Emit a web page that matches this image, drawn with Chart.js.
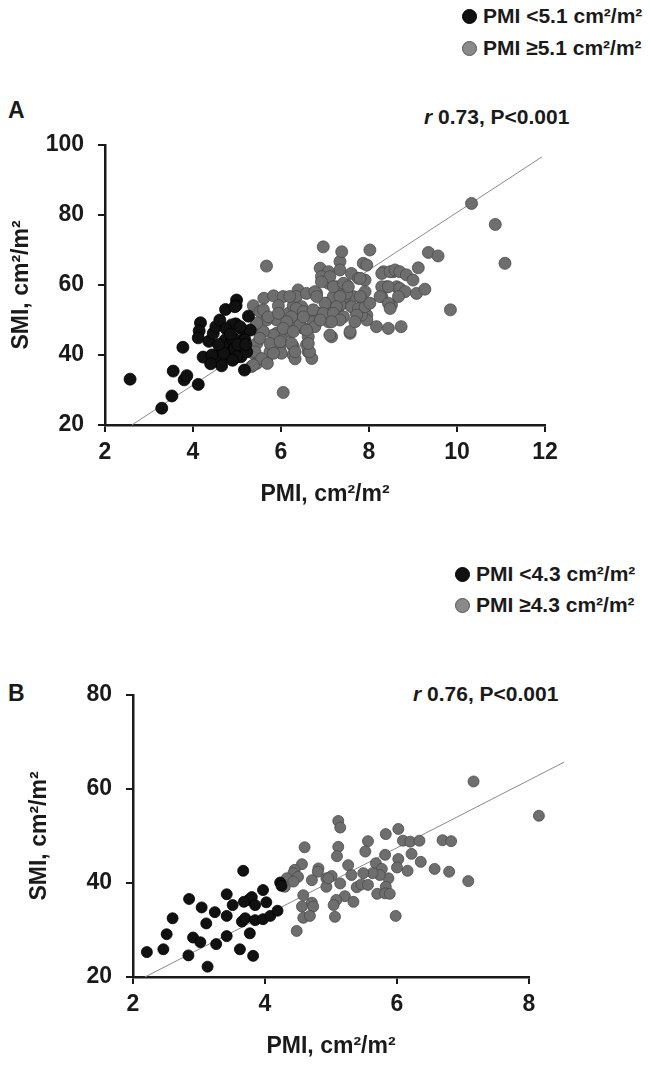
<!DOCTYPE html>
<html>
<head>
<meta charset="utf-8">
<script src="https://cdn.jsdelivr.net/npm/chart.js@4.4.1/dist/chart.umd.min.js"></script>
<style>
  body { margin: 0; background: #fff; }
  #page { position: relative; width: 650px; height: 1071px; background: #fff;
          font-family: 'Liberation Sans', Arial, sans-serif; font-weight: bold; color: #1a1a1a; }
  canvas { position: absolute; left: 0; }
  .txt { position: absolute; white-space: nowrap; line-height: 1; }
  .leg { position: absolute; display: flex; align-items: center; font-size: 21px; white-space: nowrap; }
  .dot { width: 15px; height: 15px; border-radius: 50%; margin-right: 6px; box-sizing: border-box; }
  .dot.low { background: #111; border: 1px solid #000; }
  .dot.high { background: #8a8a8a; border: 1px solid #555; }
</style>
</head>
<body>
<div id="page">
  <div class="leg" style="left:462px; top:4px;"><span class="dot low"></span>PMI &lt;5.1 cm²/m²</div>
  <div class="leg" style="left:462px; top:36px;"><span class="dot high"></span>PMI ≥5.1 cm²/m²</div>
  <div class="txt" style="left:8px; top:99px; font-size:23px;">A</div>
  <div class="txt" style="left:424px; top:106px; font-size:21px;"><i>r</i> 0.73, P&lt;0.001</div>
  <canvas id="chartA" width="620" height="440" style="top:90px;"></canvas>

  <div class="leg" style="left:455px; top:562px;"><span class="dot low"></span>PMI &lt;4.3 cm²/m²</div>
  <div class="leg" style="left:455px; top:593px;"><span class="dot high"></span>PMI ≥4.3 cm²/m²</div>
  <div class="txt" style="left:8px; top:682px; font-size:23px;">B</div>
  <div class="txt" style="left:413px; top:683px; font-size:21px;"><i>r</i> 0.76, P&lt;0.001</div>
  <canvas id="chartB" width="620" height="411" style="top:660px;"></canvas>
</div>
<script>
// Panel A: PMI < 5.1
const pmiA_low = [2.57,3.29,3.52,3.55,3.77,3.80,3.86,4.12,4.17,4.14,4.12,4.23,4.36,4.46,4.52,4.61,4.74,4.54,4.65,4.61,
  4.67,4.73,4.80,4.84,4.88,4.92,4.97,4.99,4.98,5.09,5.11,5.14,5.17,5.22,5.26,5.30,4.95,4.88,5.07,4.92,
  5.18,4.95,4.99,4.70,4.58,4.43,4.75,4.85,5.02,4.40,4.90,5.20];
const smiA_low = [33.1,24.8,28.3,35.4,42.2,32.9,34.1,31.6,49.2,46.9,44.9,39.4,43.9,46.2,48.1,50.0,53.0,38.6,36.9,41.4,
  42.4,44.3,39.7,42.9,44.5,41.4,48.9,55.7,54.1,39.5,47.4,44.3,35.7,40.9,51.1,47.1,53.8,48.6,48.1,44.8,
  44.3,41.9,39.5,40.5,43.0,40.0,47.5,46.0,43.0,37.5,38.5,43.0];

// Panel A: PMI >= 5.1
const pmiA_high = [5.67,5.37,5.52,5.61,5.83,6.05,5.94,5.90,5.67,5.41,5.52,5.45,5.37,5.45,5.33,5.67,5.75,5.83,5.90,6.01,
  5.98,6.01,6.05,6.28,6.28,6.32,6.20,6.20,6.17,6.28,6.39,6.35,6.43,6.51,6.47,6.58,6.62,6.62,6.62,6.70,
  6.77,6.81,6.85,6.89,6.96,7.04,7.08,7.15,7.11,7.04,7.19,7.26,7.34,7.38,7.34,7.30,7.42,7.49,7.57,7.60,
  7.64,7.72,8.02,7.87,7.76,7.91,8.33,8.55,8.40,8.63,8.29,8.51,8.17,8.44,7.11,7.57,7.91,7.87,7.95,7.45,
  7.60,7.34,7.19,7.08,7.34,6.77,6.20,5.60,5.71,5.94,6.35,6.51,6.24,6.13,6.43,6.73,6.89,6.05,6.28,5.83,
  5.60,5.45,5.52,5.75,5.98,6.24,6.32,6.58,5.41,5.56,5.37,5.69,5.83,7.08,6.92,7.11,6.92,7.80,7.95,8.29,
  8.48,8.59,8.70,8.85,9.00,9.12,9.35,9.57,8.29,8.44,8.70,8.82,9.08,9.27,8.25,8.44,8.48,8.67,8.73,9.85,
  10.33,10.87,11.09,6.65,6.62,7.95,7.83,7.76,7.91,8.02,7.80,7.49,7.34,7.19,7.42,7.53,7.26,7.00,6.81,6.73,
  6.96,7.19,7.42,6.77,6.58,6.51,7.72,7.68,7.34,7.15,6.89];
const smiA_high = [65.4,54.1,52.4,56.2,56.9,56.7,54.1,50.0,50.0,48.1,46.2,43.3,40.5,37.6,36.7,38.6,40.9,43.3,46.2,45.2,
  42.4,40.5,29.3,42.4,40.0,38.9,46.7,49.5,51.9,54.1,58.6,56.7,50.5,47.6,53.8,57.6,51.9,45.2,40.9,39.0,
  48.6,57.6,51.9,64.8,70.9,63.3,60.5,45.2,50.0,54.8,56.7,59.5,66.7,69.5,64.3,51.9,54.8,60.0,46.2,63.3,
  56.7,51.9,70.0,66.2,61.9,61.4,63.8,63.8,59.5,59.5,56.7,54.3,48.1,47.6,45.7,46.7,58.1,55.2,51.4,56.7,
  53.8,54.3,52.4,49.5,50.5,58.1,56.7,52.9,50.9,51.9,53.3,52.4,50.9,49.5,48.6,49.5,50.9,47.6,46.7,45.7,
  46.7,49.1,44.8,43.3,43.8,43.3,40.9,42.9,40.9,39.0,37.1,37.6,40.5,63.8,62.4,62.4,60.9,61.9,65.7,63.3,
  63.8,64.3,63.8,62.9,61.4,64.9,69.3,68.3,59.5,59.5,59.0,58.1,57.6,58.8,56.7,54.8,53.3,56.7,48.1,52.9,
  83.3,77.3,66.2,40.9,43.3,50.0,51.4,53.3,53.8,54.8,56.7,57.6,56.7,59.5,60.5,59.5,53.8,54.8,56.7,52.9,
  51.9,51.9,50.9,48.1,47.1,50.9,51.4,49.5,50.0,49.5,50.0];

const trendA_x = [2.61, 11.93];
const trendA_y = [20, 96.6];
const ticksA_x = [2, 4, 6, 8, 10, 12];
const ticksA_y = [20, 40, 60, 80, 100];

// Panel B: PMI < 4.3
const pmiB_low = [2.21,2.46,2.51,2.60,2.85,2.91,3.02,2.84,3.13,3.04,3.11,3.24,3.26,3.42,3.42,3.42,3.51,3.62,3.67,3.65,
  3.70,3.77,3.82,3.75,3.80,3.85,3.85,3.97,4.02,3.97,4.08,4.19,4.23,4.25,3.68];
const smiB_low = [25.3,25.9,29.1,32.5,36.6,28.4,27.4,24.6,22.2,34.8,31.4,33.8,27.0,37.6,33.0,28.7,35.3,25.9,42.6,31.8,
  32.5,29.3,24.5,36.4,37.0,35.3,32.1,38.5,35.9,32.3,33.0,34.1,40.1,39.4,36.0];

// Panel B: PMI >= 4.3
const pmiB_high = [4.60,4.56,4.45,4.43,4.50,4.33,4.30,4.43,4.81,4.80,4.71,4.93,4.93,4.58,4.56,4.71,4.73,4.58,4.68,4.48,
  5.11,5.14,6.02,5.83,5.56,5.11,5.09,5.52,6.09,6.20,6.34,6.69,6.82,7.08,6.57,6.79,6.22,6.36,6.16,6.02,
  6.00,5.87,5.82,5.68,5.77,5.74,5.63,5.49,5.26,5.31,5.01,4.96,5.14,5.39,5.46,5.56,5.83,5.70,5.82,5.89,
  5.21,5.34,5.08,5.04,5.06,5.98,7.16,8.15];
const smiB_high = [47.6,44.0,42.8,42.1,41.3,41.0,39.2,40.3,43.1,42.4,40.6,41.0,39.2,37.4,35.0,35.8,35.0,32.6,33.0,29.8,
  53.2,51.8,51.5,50.4,48.9,47.7,45.7,46.7,49.0,48.8,49.0,49.1,48.9,40.4,43.0,42.4,46.2,44.5,42.6,45.1,
  43.3,41.0,46.0,44.2,43.0,41.7,42.1,42.1,43.8,41.7,41.5,41.0,39.9,39.1,39.7,39.6,39.2,37.7,37.8,37.7,
  37.2,36.0,36.4,35.3,32.8,33.0,61.6,54.3];

const trendB_x = [2.18, 8.53];
const trendB_y = [20, 65.7];
const ticksB_x = [2, 4, 6, 8];
const ticksB_y = [20, 40, 60, 80];

const FONT = "'Liberation Sans', Arial, sans-serif";
const pts = (xs, ys) => xs.map((x, i) => ({ x, y: ys[i] }));

// Chart.js skips points that fall outside the chart area; draw those ones anyway
const outsidePoints = {
  id: 'outsidePoints',
  afterDatasetsDraw(chart) {
    const a = chart.chartArea;
    const whole = { left: 0, top: 0, right: chart.width, bottom: chart.height };
    chart.getSortedVisibleDatasetMetas().forEach(meta => {
      if (meta.type === 'line') return;
      meta.data.forEach(el => {
        if (el.x > a.right || el.x < a.left || el.y < a.top || el.y > a.bottom) el.draw(chart.ctx, whole);
      });
    });
  }
};

function makeChart(id, o) {
  const tickFont = { family: FONT, size: 23, weight: 'bold' };
  const axisLine = { display: true, color: '#1a1a1a', width: 2.5 };
  const gridTicks = { drawOnChartArea: false, drawTicks: true, tickLength: 7, color: '#1a1a1a', lineWidth: 2 };
  return new Chart(document.getElementById(id), {
    type: 'scatter',
    data: {
      datasets: [
        { data: pts(o.lowX, o.lowY), backgroundColor: '#111', borderColor: '#000', borderWidth: 0.8,
          pointRadius: o.r, order: 1, clip: false },
        { data: pts(o.highX, o.highY), backgroundColor: '#6e6e6e', borderColor: '#4a4a4a', borderWidth: 0.8,
          pointRadius: o.r, order: 2, clip: false },
        { type: 'line', data: pts(o.trendX, o.trendY), borderColor: '#8a8a8a', borderWidth: 1,
          pointRadius: 0, fill: false, order: 3, clip: false }
      ]
    },
    plugins: [outsidePoints],
    options: {
      responsive: false,
      animation: false,
      devicePixelRatio: 1,
      layout: { padding: { top: o.padTop, right: o.padRight, left: 0, bottom: 0 } },
      plugins: { legend: { display: false }, tooltip: { enabled: false } },
      scales: {
        x: {
          type: 'linear', min: o.tx[0], max: o.tx[o.tx.length - 1],
          afterBuildTicks: s => { s.ticks = o.tx.map(v => ({ value: v })); },
          afterFit: s => { s.height = o.xH; },
          ticks: { font: tickFont, color: '#1a1a1a', padding: 7 },
          grid: gridTicks, border: axisLine,
          title: { display: true, text: 'PMI, cm²/m²', color: '#1a1a1a',
                   font: { family: FONT, size: 23, weight: 'bold' }, padding: { top: 0, bottom: o.xTitlePad } }
        },
        y: {
          type: 'linear', min: o.ty[0], max: o.ty[o.ty.length - 1],
          afterBuildTicks: s => { s.ticks = o.ty.map(v => ({ value: v })); },
          afterFit: s => { s.width = o.yW; },
          ticks: { font: tickFont, color: '#1a1a1a', padding: 14 },
          grid: gridTicks, border: axisLine,
          title: { display: true, text: 'SMI, cm²/m²', color: '#1a1a1a',
                   font: { family: FONT, size: 23, weight: 'bold' }, padding: { top: o.yTitlePad, bottom: 0 } }
        }
      }
    }
  });
}

makeChart('chartA', {
  lowX: pmiA_low, lowY: smiA_low, highX: pmiA_high, highY: smiA_high,
  trendX: trendA_x, trendY: trendA_y, tx: ticksA_x, ty: ticksA_y,
  r: 6, padTop: 55, padRight: 75, xH: 105, yW: 105, xTitlePad: 22, yTitlePad: 8
});

makeChart('chartB', {
  lowX: pmiB_low, lowY: smiB_low, highX: pmiB_high, highY: smiB_high,
  trendX: trendB_x, trendY: trendB_y, tx: ticksB_x, ty: ticksB_y,
  r: 5.5, padTop: 35, padRight: 91, xH: 94, yW: 133, xTitlePad: 11, yTitlePad: 26
});
</script>
</body>
</html>
